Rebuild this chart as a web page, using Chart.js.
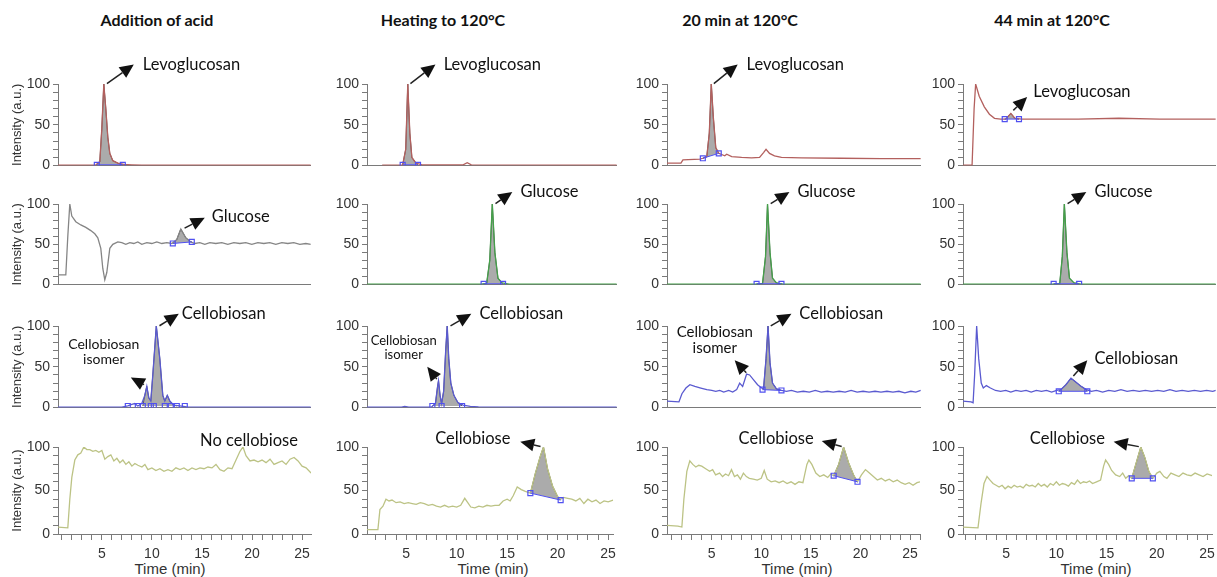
<!DOCTYPE html>
<html lang="en">
<head>
<meta charset="UTF-8">
<title>Chromatograms</title>
<script src="https://cdn.jsdelivr.net/npm/chart.js"></script>
<style>
  body { margin: 0; width: 1217px; height: 577px; overflow: hidden; background: #fff; position: relative; }
  canvas { position: absolute; }
  .head { position: absolute; top: 10px; font: bold 16px Lato, sans-serif; color: #111; transform: translateX(-50%); white-space: nowrap; }
  .xlab { position: absolute; top: 560px; font: 15px "Liberation Sans", Arial, sans-serif; color: #333; transform: translateX(-50%); white-space: nowrap; }
</style>
</head>
<body>
<div class="head" style="left:157px">Addition of acid</div>
<div class="head" style="left:443px">Heating to 120°C</div>
<div class="head" style="left:740px">20 min at 120°C</div>
<div class="head" style="left:1052px">44 min at 120°C</div>
<div class="xlab" style="left:170px">Time (min)</div>
<div class="xlab" style="left:493px">Time (min)</div>
<div class="xlab" style="left:797px">Time (min)</div>
<div class="xlab" style="left:1096px">Time (min)</div>

<script>
  // ---- data: [time (min), intensity (a.u.)] ----
  var levoAcid = [[0.6,0.5],[3,0.5],[4.4,0.8],[4.8,5],[5.0,45],[5.2,100],[5.4,70],[5.6,35],[5.8,15],[6.1,6],[6.6,3],[7.2,1.5],[8,1],[9,0.6],[25.9,0.5]];
  var levoAcidMarks = [[4.5,1],[7.1,1]];
  var levoHeat = [[2.6,0.5],[4.6,0.8],[4.9,20],[5.1,100],[5.3,40],[5.5,10],[5.9,3],[6.5,1],[10.5,1],[10.9,3.5],[11.3,1],[25.5,0.5]];
  var levoHeatMarks = [[4.6,1],[6.1,1]];
  var levo20 = [[0.5,3],[1.9,3],[2.1,7],[3.8,8],[4.1,9],[4.5,11],[4.75,40],[4.95,100],[5.15,60],[5.4,22],[5.7,15],[6.3,12],[6.5,14],[7,11],[8,10],[9,9.5],[9.8,10],[10.2,16],[10.45,20],[10.8,15],[11.3,12],[12,10],[14,9.5],[18,9],[22,8.5],[26,8.5]];
  var levo20Marks = [[4.1,9],[5.7,15]];
  var levo44 = [[0.7,0.5],[1.6,0.5],[1.8,70],[1.95,100],[2.3,85],[2.8,72],[3.3,63],[3.8,58],[4.4,57],[4.9,57],[5.4,64],[5.8,58],[6.5,57],[8,57],[12,57],[16,58],[20,57],[25.5,57]];
  var levo44Marks = [[4.8,57],[6.2,57]];

  var glucAcid = [[0.6,12],[1.4,12],[1.6,60],[1.8,100],[2.0,85],[2.4,78],[2.9,74],[3.4,71],[3.9,67],[4.3,63],[4.6,58],[4.9,45],[5.1,20],[5.3,6],[5.5,15],[5.8,45],[6.1,50],[6.6,53],[7.0,52],[7.4,50],[7.8,52],[8.2,51],[8.6,53],[9.0,50],[9.5,52],[10,51],[10.5,53],[11,51],[11.5,52],[12,51],[12.5,56],[12.9,69],[13.4,58],[13.9,53],[14.3,51],[14.8,52],[15.3,50],[15.8,52],[16.4,51],[17,52],[17.6,50],[18.2,52],[18.8,51],[19.4,52],[20,50],[20.6,52],[21.2,51],[21.8,52],[22.4,50],[23,52],[23.6,51],[24.2,52],[24.8,50],[25.4,51],[25.9,50]];
  var glucAcidMarks = [[12.1,51],[14.0,53]];
  var glucHeat = [[1.1,0.5],[12.2,0.5],[12.8,1.5],[13.1,30],[13.35,100],[13.6,40],[13.9,8],[14.3,2],[15,0.7],[25.5,0.5]];
  var glucHeatMarks = [[12.5,1],[14.4,1]];
  var gluc20 = [[0.5,0.5],[9.5,0.5],[10.1,1.5],[10.4,35],[10.6,100],[10.85,40],[11.1,8],[11.5,2],[12.2,0.7],[26,0.5]];
  var gluc20Marks = [[9.5,1],[12.0,1]];
  var gluc44 = [[0.7,0.5],[9.6,0.5],[10.2,1.5],[10.45,35],[10.65,100],[10.9,40],[11.15,8],[11.6,2],[12.3,0.7],[25.5,0.5]];
  var gluc44Marks = [[9.6,1],[12.1,1]];

  var cbsAcid = [[0.6,0.5],[7.0,0.5],[7.6,2],[8.0,4],[8.3,5],[8.6,2],[9.0,5],[9.3,15],[9.5,26],[9.7,12],[9.9,8],[10.1,40],[10.45,100],[10.8,60],[11.1,15],[11.3,8],[11.55,15],[11.8,8],[12.2,3],[12.8,2],[13.5,1],[14.5,0.5],[25.9,0.5]];
  var cbsAcidMarks = [[7.6,2],[8.6,2],[9.1,2],[9.9,2],[10.2,2],[11.3,2],[11.9,2],[12.5,2],[13.3,2]];
  var cbsHeat = [[1.1,0.5],[4.5,0.5],[4.8,1.5],[5.2,0.5],[7.4,0.5],[7.8,5],[8.0,25],[8.1,33],[8.25,15],[8.4,5],[8.6,20],[8.8,70],[8.95,100],[9.1,60],[9.3,30],[9.6,15],[10.0,6],[10.5,3],[11.2,1.5],[12,0.8],[25.5,0.5]];
  var cbsHeatMarks = [[7.5,2],[8.4,2],[10.4,2]];
  var cbs20 = [[0.5,8],[1.7,7],[2.0,17],[2.4,24],[2.8,28],[3.3,26],[3.9,24],[4.5,22],[5.0,21],[5.4,20],[5.8,21],[6.2,19],[6.7,21],[7.1,19],[7.5,22],[7.8,30],[8.1,26],[8.5,41],[8.8,40],[9.2,34],[9.6,28],[10.0,24],[10.2,23],[10.45,60],[10.65,100],[10.85,55],[11.1,30],[11.5,23],[12.0,21],[12.5,20],[13,21],[13.6,19],[14.2,20],[14.8,19],[15.4,21],[16,19],[16.6,20],[17.2,19],[17.8,20],[18.4,19],[19,21],[19.6,19],[20.2,20],[20.8,19],[21.4,20],[22,19],[22.6,20],[23.2,19],[23.8,20],[24.4,18],[25,20],[25.5,19],[26,21]];
  var cbs20Marks = [[10.1,22],[12.0,21]];
  var cbs44 = [[0.7,8],[1.5,7],[1.7,6],[1.85,40],[2.05,100],[2.25,60],[2.5,30],[2.7,24],[3.0,27],[3.4,24],[3.9,21],[4.4,20],[4.9,21],[5.4,19],[5.9,21],[6.4,20],[6.9,21],[7.4,19],[7.9,21],[8.4,20],[8.9,21],[9.4,19],[9.9,21],[10.3,22],[10.8,28],[11.3,36],[11.8,31],[12.3,26],[12.8,22],[13.3,20],[13.8,21],[14.4,19],[15,21],[15.6,20],[16.2,22],[16.8,20],[17.4,21],[18,20],[18.6,21],[19.2,20],[19.8,21],[20.4,20],[21,22],[21.6,20],[22.2,21],[22.8,20],[23.4,21],[24,20],[24.6,21],[25.2,20],[25.5,21]];
  var cbs44Marks = [[10.1,20],[12.9,20]];

  var cboAcid = [[0.6,8],[1.6,7],[1.8,40],[2.0,65],[2.3,85],[2.6,91],[2.9,93],[3.2,100],[3.5,97],[3.8,97],[4.1,95],[4.4,96],[4.7,94],[5.0,96],[5.3,86],[5.6,89],[5.9,91],[6.2,84],[6.5,87],[6.8,82],[7.1,85],[7.4,80],[7.7,83],[8.0,78],[8.3,81],[8.6,79],[9.0,77],[9.3,80],[9.6,74],[10.0,76],[10.4,73],[10.8,75],[11.2,72],[11.6,74],[12.0,72],[12.4,76],[12.8,74],[13.2,76],[13.6,73],[14,76],[14.4,74],[14.8,76],[15.2,75],[15.6,77],[16.0,76],[16.4,80],[16.8,74],[17.2,72],[17.6,76],[18.0,75],[18.4,85],[18.8,95],[19.1,100],[19.4,90],[19.8,84],[20.2,85],[20.6,83],[21.0,85],[21.4,82],[21.8,86],[22.2,80],[22.6,82],[23.0,84],[23.4,80],[23.8,86],[24.2,88],[24.6,84],[25.0,78],[25.4,76],[25.9,70]];
  var cboHeat = [[1.1,5],[2.2,5],[2.4,28],[2.7,32],[3.0,40],[3.3,38],[3.6,39],[4.0,36],[4.4,37],[4.8,35],[5.2,36],[5.6,35],[6.0,34],[6.4,36],[6.8,35],[7.2,33],[7.6,34],[8.0,32],[8.4,31],[8.8,33],[9.2,31],[9.6,32],[10.0,31],[10.4,33],[10.8,41],[11.1,36],[11.4,31],[11.8,30],[12.2,32],[12.6,31],[13,33],[13.4,32],[13.8,33],[14.2,33],[14.6,38],[15.0,40],[15.3,38],[15.6,44],[16.0,54],[16.4,51],[16.8,49],[17.3,47],[17.8,70],[18.3,90],[18.6,100],[19.0,75],[19.5,55],[20.0,43],[20.3,40],[20.6,42],[21,41],[21.4,40],[21.8,38],[22.2,41],[22.6,35],[23,40],[23.4,37],[23.8,39],[24.2,35],[24.6,38],[25,37],[25.5,39]];
  var cboHeatMarks = [[17.3,47],[20.3,39]];
  var cbo20 = [[0.5,10],[1.6,9],[2.0,8],[2.2,40],[2.5,72],[2.8,84],[3.1,80],[3.4,77],[3.7,79],[4.0,78],[4.4,75],[4.8,72],[5.1,74],[5.4,68],[5.8,70],[6.1,66],[6.4,69],[6.7,67],[7.0,74],[7.3,66],[7.6,68],[7.9,63],[8.2,70],[8.5,66],[8.8,64],[9.2,63],[9.6,62],[10.0,64],[10.3,73],[10.6,63],[11.0,60],[11.4,61],[11.8,59],[12.2,61],[12.6,58],[13.0,60],[13.4,57],[13.8,60],[14.2,59],[14.6,80],[14.8,85],[15.1,80],[15.5,70],[15.9,66],[16.3,68],[16.7,65],[17.0,69],[17.3,67],[17.8,80],[18.3,100],[18.8,82],[19.3,68],[19.7,60],[20.1,68],[20.5,74],[20.9,70],[21.3,66],[21.7,62],[22.1,64],[22.5,61],[22.9,63],[23.3,60],[23.7,62],[24.1,59],[24.5,57],[24.9,59],[25.3,56],[25.7,59],[26,60]];
  var cbo20Marks = [[17.3,67],[19.7,60]];
  var cbo44 = [[0.7,8],[2.2,7],[2.5,35],[2.8,58],[3.1,66],[3.4,62],[3.7,58],[4.0,56],[4.3,54],[4.6,56],[4.9,52],[5.2,55],[5.5,53],[5.8,56],[6.1,54],[6.4,55],[6.7,53],[7.0,57],[7.3,55],[7.6,56],[7.9,54],[8.2,58],[8.5,55],[8.8,57],[9.1,54],[9.4,58],[9.7,56],[10.0,60],[10.3,56],[10.6,58],[10.9,57],[11.2,55],[11.5,59],[11.8,57],[12.1,62],[12.4,58],[12.7,60],[13.0,59],[13.3,61],[13.6,58],[14.0,60],[14.4,62],[14.7,78],[14.9,85],[15.2,80],[15.5,73],[15.9,68],[16.3,66],[16.6,70],[16.9,64],[17.2,67],[17.5,64],[17.9,80],[18.4,100],[18.8,88],[19.2,72],[19.6,64],[20.0,70],[20.3,72],[20.7,66],[21.0,64],[21.4,70],[21.8,68],[22.2,66],[22.6,70],[23.0,68],[23.4,67],[23.8,70],[24.2,68],[24.6,66],[25.0,69],[25.5,67]];
  var cbo44Marks = [[17.5,64],[19.6,64]];

  var timeLabels = [5, 10, 15, 20, 25];
  var intensityLabels = [0, 50, 100];

  // ---- layout (pixels) ----
  var cols = [
    { left: 58, right: 312, min: 0.62, max: 25.9 },
    { left: 367, right: 618, min: 1.12, max: 25.5 },
    { left: 667, right: 922, min: 0.5, max: 26.0 },
    { left: 963, right: 1217, min: 0.71, max: 25.5 }
  ];
  var rows = [
    { top: 84, bottom: 171 },
    { top: 204, bottom: 290 },
    { top: 326, bottom: 413 },
    { top: 447, bottom: 534 }
  ];

  var RED = '#b3605e', GRAY = '#858585', GREEN = '#45a04a', BLUE = '#5a5ad0', OLIVE = '#bcc385';

  var panels = [
    { c: 0, r: 0, trace: levoAcid, marks: levoAcidMarks, color: RED,
      notes: [{ text: ['Levoglucosan'], tip: [5.35, 99], head: [8.2, 124], at: [9.1, 124] }] },
    { c: 1, r: 0, trace: levoHeat, marks: levoHeatMarks, color: RED,
      notes: [{ text: ['Levoglucosan'], tip: [5.2, 99], head: [7.8, 124], at: [8.6, 124] }] },
    { c: 2, r: 0, trace: levo20, marks: levo20Marks, color: RED,
      notes: [{ text: ['Levoglucosan'], tip: [5.05, 99], head: [7.6, 124], at: [8.5, 124] }] },
    { c: 3, r: 0, trace: levo44, marks: levo44Marks, color: RED,
      notes: [{ text: ['Levoglucosan'], tip: [5.5, 66], head: [7.0, 84], at: [7.6, 90] }] },

    { c: 0, r: 1, trace: glucAcid, marks: glucAcidMarks, color: GRAY,
      notes: [{ text: ['Glucose'], tip: [13.1, 69], head: [15.3, 83], at: [16.0, 84] }] },
    { c: 1, r: 1, trace: glucHeat, marks: glucHeatMarks, color: GREEN,
      notes: [{ text: ['Glucose'], tip: [13.5, 99], head: [15.3, 115], at: [16.1, 115] }] },
    { c: 2, r: 1, trace: gluc20, marks: gluc20Marks, color: GREEN,
      notes: [{ text: ['Glucose'], tip: [10.75, 99], head: [12.8, 115], at: [13.6, 115] }] },
    { c: 3, r: 1, trace: gluc44, marks: gluc44Marks, color: GREEN,
      notes: [{ text: ['Glucose'], tip: [10.8, 99], head: [12.8, 115], at: [13.6, 115] }] },

    { c: 0, r: 2, trace: cbsAcid, marks: cbsAcidMarks, fillMarks: [2, 7], noBase: true, color: BLUE,
      notes: [{ text: ['Cellobiosan'], tip: [10.6, 99], head: [12.7, 115], at: [13.0, 115] },
              { text: ['Cellobiosan', 'isomer'], tip: [9.4, 27], head: [7.9, 37], at: [5.2, 77], align: 'center', size: 14 }] },
    { c: 1, r: 2, trace: cbsHeat, marks: cbsHeatMarks, noBase: true, color: BLUE,
      notes: [{ text: ['Cellobiosan'], tip: [9.1, 99], head: [11.3, 115], at: [12.1, 115] },
              { text: ['Cellobiosan', 'isomer'], tip: [8.05, 33], head: [7.0, 50], at: [4.7, 82], align: 'center', size: 13 }] },
    { c: 2, r: 2, trace: cbs20, marks: cbs20Marks, color: BLUE,
      notes: [{ text: ['Cellobiosan'], tip: [10.75, 99], head: [13.0, 115], at: [13.8, 115] },
              { text: ['Cellobiosan', 'isomer'], tip: [8.6, 41], head: [7.3, 58], at: [5.3, 93], align: 'center', size: 15 }] },
    { c: 3, r: 2, trace: cbs44, marks: cbs44Marks, color: BLUE,
      notes: [{ text: ['Cellobiosan'], tip: [11.4, 37], head: [12.9, 58], at: [13.6, 60] }] },

    { c: 0, r: 3, trace: cboAcid, marks: [], color: OLIVE,
      notes: [{ text: ['No cellobiose'], at: [19.7, 107], align: 'center' }] },
    { c: 1, r: 3, trace: cboHeat, marks: cboHeatMarks, color: OLIVE,
      notes: [{ text: ['Cellobiose'], tip: [18.5, 100], head: [16.3, 106], at: [11.6, 110], align: 'center' }] },
    { c: 2, r: 3, trace: cbo20, marks: cbo20Marks, color: OLIVE,
      notes: [{ text: ['Cellobiose'], tip: [18.3, 100], head: [16.1, 107], at: [11.5, 110], align: 'center' }] },
    { c: 3, r: 3, trace: cbo44, marks: cbo44Marks, color: OLIVE,
      notes: [{ text: ['Cellobiose'], tip: [18.4, 100], head: [15.7, 106], at: [11.1, 109], align: 'center' }] }
  ];

  function pts(arr) {
    return arr.map(function (p) { return { x: p[0], y: p[1] }; });
  }

  // gray area between two integration marks
  function peakShape(p) {
    if (!p.marks.length) return [];
    var fm = p.fillMarks || [0, p.marks.length - 1];
    var a = p.marks[fm[0]], b = p.marks[fm[1]];
    var inside = p.trace.filter(function (q) { return q[0] > a[0] && q[0] < b[0]; });
    return pts([a].concat(inside, [b]));
  }

  function drawArrow(ctx, x0, y0, x1, y1) {
    var ang = Math.atan2(y1 - y0, x1 - x0), L = 14, W = 6.5;
    var bx = x1 - L * Math.cos(ang), by = y1 - L * Math.sin(ang);
    ctx.beginPath();
    ctx.moveTo(x0 + 2 * Math.cos(ang), y0 + 2 * Math.sin(ang));
    ctx.lineTo(bx, by);
    ctx.stroke();
    ctx.beginPath();
    ctx.moveTo(x1, y1);
    ctx.lineTo(bx + W * Math.sin(ang), by - W * Math.cos(ang));
    ctx.lineTo(bx - W * Math.sin(ang), by + W * Math.cos(ang));
    ctx.closePath();
    ctx.fill();
  }

  function notesPlugin(p) {
    return {
      id: 'notes',
      afterDraw: function (chart) {
        var ctx = chart.ctx, xs = chart.scales.x, ys = chart.scales.y;
        ctx.save();
        ctx.strokeStyle = '#222';
        ctx.fillStyle = '#111';
        ctx.lineWidth = 1.5;
        p.notes.forEach(function (n) {
          if (n.tip) {
            drawArrow(ctx, xs.getPixelForValue(n.tip[0]), ys.getPixelForValue(n.tip[1]),
              xs.getPixelForValue(n.head[0]), ys.getPixelForValue(n.head[1]));
          }
          var size = n.size || 16.5;
          ctx.font = size + 'px Lato, sans-serif';
          ctx.textAlign = n.align || 'left';
          ctx.textBaseline = 'middle';
          var tx = xs.getPixelForValue(n.at[0]), ty = ys.getPixelForValue(n.at[1]);
          n.text.forEach(function (t, i) { ctx.fillText(t, tx, ty + i * (size + 1)); });
        });
        ctx.restore();
      }
    };
  }

  panels.forEach(function (p) {
    var col = cols[p.c], row = rows[p.r];
    var last = p.r === 3;
    var padTop = 44, yw = 58, padRight = 4, xh = last ? 32 : 0, padBottom = last ? 0 : 6;
    var canvas = document.createElement('canvas');
    var w = col.right - col.left + yw + padRight;
    var h = row.bottom - row.top + padTop + xh + padBottom;
    canvas.width = w;
    canvas.height = h;
    canvas.style.left = (col.left - yw) + 'px';
    canvas.style.top = (row.top - padTop) + 'px';
    document.body.appendChild(canvas);

    new Chart(canvas.getContext('2d'), {
      type: 'line',
      data: {
        datasets: [
          { data: pts(p.marks), showLine: !p.noBase, borderColor: '#5050f0', borderWidth: 1,
            pointStyle: 'rect', pointRadius: 3.5, pointBorderColor: '#5050f0', pointBorderWidth: 1.2,
            pointBackgroundColor: 'rgba(255,255,255,0)', fill: false },
          { data: pts(p.trace), borderColor: p.color, borderWidth: 1.3, pointRadius: 0, fill: false },
          { data: peakShape(p), borderColor: '#5a5a5a', borderWidth: 1, backgroundColor: '#ababab',
            pointRadius: 0, fill: 'shape' }
        ]
      },
      options: {
        responsive: false,
        animation: false,
        events: [],
        layout: { padding: { left: 0, top: padTop, right: padRight, bottom: padBottom } },
        plugins: { legend: { display: false }, tooltip: { enabled: false } },
        elements: { line: { tension: 0 } },
        scales: {
          x: {
            type: 'linear', min: col.min, max: col.max,
            afterFit: function (s) { s.height = xh; },
            border: { display: true, color: '#7a7a7a', width: 1 },
            grid: { display: last, drawOnChartArea: false, tickLength: 6, color: '#7a7a7a' },
            ticks: {
              display: last, stepSize: 1, autoSkip: false, includeBounds: false, maxRotation: 0, padding: 6,
              color: '#333', font: { family: 'Liberation Sans, Arial, sans-serif', size: 14 },
              callback: function (v) { return timeLabels.indexOf(v) >= 0 ? String(v) : ''; }
            }
          },
          y: {
            min: 0, max: 100,
            afterFit: function (s) { s.width = yw; },
            border: { display: true, color: '#7a7a7a', width: 1 },
            grid: { drawOnChartArea: false, tickLength: 5, color: '#7a7a7a' },
            title: { display: p.c === 0, text: 'Intensity (a.u.)', color: '#333', padding: { top: 10, bottom: 0 },
              font: { family: 'Liberation Sans, Arial, sans-serif', size: 13 } },
            ticks: {
              stepSize: 10, autoSkip: false, padding: 3, color: '#333',
              font: { family: 'Liberation Sans, Arial, sans-serif', size: 14 },
              callback: function (v) { return intensityLabels.indexOf(v) >= 0 ? String(v) : ''; }
            }
          }
        }
      },
      plugins: [notesPlugin(p)]
    });
  });
</script>
</body>
</html>
